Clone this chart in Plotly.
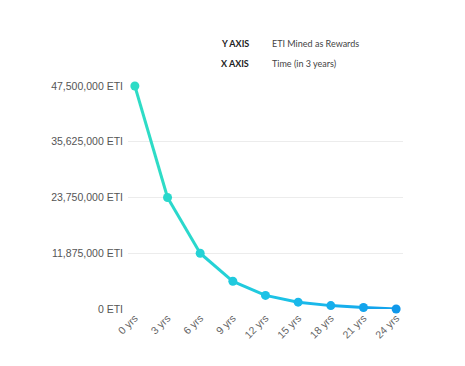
import plotly.graph_objects as go

categories = ["0 yrs", "3 yrs", "6 yrs", "9 yrs", "12 yrs", "15 yrs", "18 yrs", "21 yrs", "24 yrs"]
eti_rewards = [47500000, 23750000, 11875000, 5900000, 2900000, 1450000, 720000, 330000, 0]
y_ticks = [0, 11875000, 23750000, 35625000, 47500000]
y_tick_labels = ["0 ETI", "11,875,000 ETI", "23,750,000 ETI", "35,625,000 ETI", "47,500,000 ETI"]
point_colors = ["#2edcc6", "#2ad8cc", "#24d2d6", "#20cade", "#1cc2e6", "#19b8ea", "#16aeec", "#13a4ec", "#1098ea"]

fig = go.Figure()
for i in range(len(categories) - 1):
    fig.add_trace(go.Scatter(
        x=categories[i:i + 2], y=eti_rewards[i:i + 2], mode="lines",
        line=dict(color=point_colors[i], width=3), hoverinfo="skip", showlegend=False,
    ))
fig.add_trace(go.Scatter(
    x=categories, y=eti_rewards, mode="markers",
    marker=dict(color=point_colors, size=9), showlegend=False, cliponaxis=False,
))

grey = "#555555"
fig.update_layout(
    width=465, height=366,
    margin=dict(l=128, r=62, t=86, b=57),
    plot_bgcolor="white", paper_bgcolor="white",
    font=dict(family="Liberation Sans, Arial", size=10.5, color=grey),
    xaxis=dict(
        type="category", range=[-0.21, 8.21], showgrid=False, showline=False, zeroline=False,
        tickangle=-45, tickfont=dict(size=10.5, color="#666666"), ticks="",
    ),
    yaxis=dict(
        range=[0, 47500000], tickvals=y_ticks, ticktext=y_tick_labels,
        showgrid=True, gridcolor="#ececec", gridwidth=1, zeroline=False, showline=False,
        ticks="", ticklabelstandoff=4, tickfont=dict(size=10.5, color=grey),
    ),
)

lato = "Lato, Liberation Sans"
labels = [
    (219, 44, "<b>Y AXIS</b>", "#222"),
    (219, 64, "<b>X AXIS</b>", "#222"),
    (270, 44, "ETI Mined as Rewards", "#444"),
    (270, 64, "Time (in 3 years)", "#444"),
]
for px, py, txt, col in labels:
    fig.add_annotation(
        x=(px - 128) / (465 - 128 - 62), y=((366 - py) - 57) / (366 - 86 - 57),
        xref="paper", yref="paper", text=txt, showarrow=False,
        xanchor="left", yanchor="middle", font=dict(family=lato, size=9, color=col),
    )

fig.write_html("out.html")
